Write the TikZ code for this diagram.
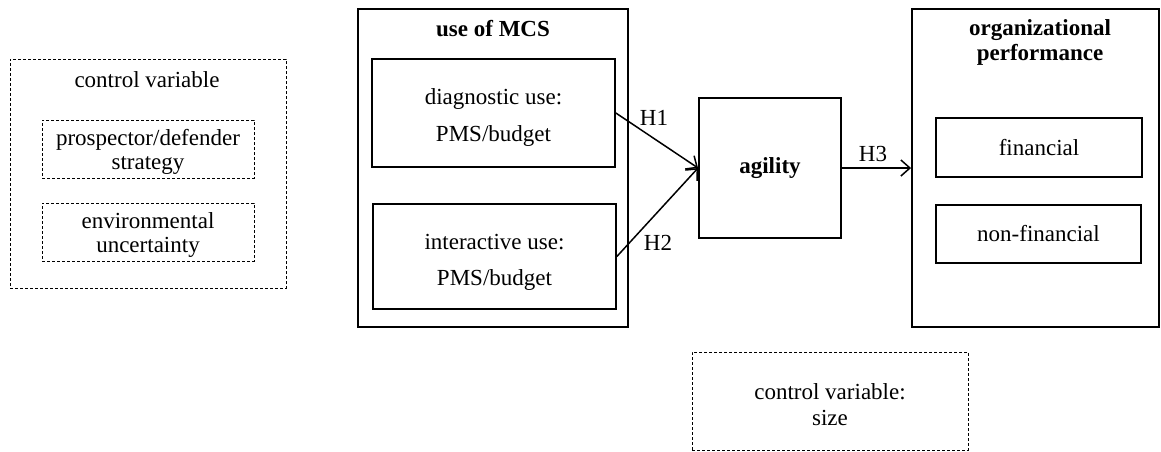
\documentclass[tikz,border=0pt]{standalone}
\usepackage{fontspec}
\setmainfont{Liberation Serif}
\usetikzlibrary{arrows.meta}
\begin{document}
\begin{tikzpicture}[x=1pt,y=-1pt,
  every node/.style={font=\fontsize{23}{23.5}\selectfont, inner sep=0pt, align=center},
  solidbox/.style={draw, line width=1.9pt, rectangle},
  innerbox/.style={draw, line width=1.7pt, rectangle},
  dashbox/.style={draw, line width=0.8pt, dash pattern=on 3pt off 2pt, rectangle},
  link/.style={line width=1.5pt, -{Straight Barb[length=9pt,width=16pt,line width=1.5pt]}},
  title/.style={font=\fontsize{23}{25}\selectfont\bfseries}
]
\useasboundingbox (0,0) rectangle (1161,452);

% control variables on the left
\node[dashbox, minimum width=276, minimum height=229] (ctrl) at (148,173.5) {};
\node (ctrltitle) at (147,80) {control variable};
\node[dashbox, minimum width=212, minimum height=58] (strat) at (148,149) {};
\node (strattext) at (148,152) {prospector/defender\\strategy};
\node[dashbox, minimum width=212, minimum height=58] (unc) at (148,232) {};
\node (unctext) at (148,235) {environmental\\uncertainty};

% use of MCS
\node[solidbox, minimum width=270, minimum height=318] (mcs) at (493,168) {};
\node[title] (mcstitle) at (493,29) {use of MCS};
\node[innerbox, minimum width=243, minimum height=108] (diag) at (493.5,113) {};
\node (diagtext) at (493.5,118) {diagnostic use:\\[13.5pt]PMS/budget};
\node[innerbox, minimum width=243, minimum height=105] (inter) at (494.5,256.5) {};
\node (intertext) at (494.5,262) {interactive use:\\[12.5pt]PMS/budget};

% agility
\node[solidbox, minimum width=142, minimum height=140, font=\fontsize{23}{23}\selectfont\bfseries] (agility) at (770,168) {agility};

% organizational performance
\node[solidbox, minimum width=247, minimum height=318] (org) at (1035.5,168) {};
\node[title] (orgtitle) at (1040,42) {organizational\\performance};
\node[innerbox, minimum width=206, minimum height=59] (fin) at (1039,147.5) {financial};
\node[innerbox, minimum width=205, minimum height=58] (nonfin) at (1038.5,234) {non-financial};

% control variable: size
\node[dashbox, minimum width=276, minimum height=98] (size) at (830,401) {};
\node (sizetext) at (830,405) {control variable:\\[2.5pt]size};

% hypotheses
\draw[link] (diag.east) -- (agility.west);
\draw[link] (inter.east) -- (agility.west);
\draw[link] (agility.east) -- (org.west);
\node (h1) at (654,118) {H1};
\node (h2) at (658,243) {H2};
\node (h3) at (873,154) {H3};
\end{tikzpicture}
\end{document}
